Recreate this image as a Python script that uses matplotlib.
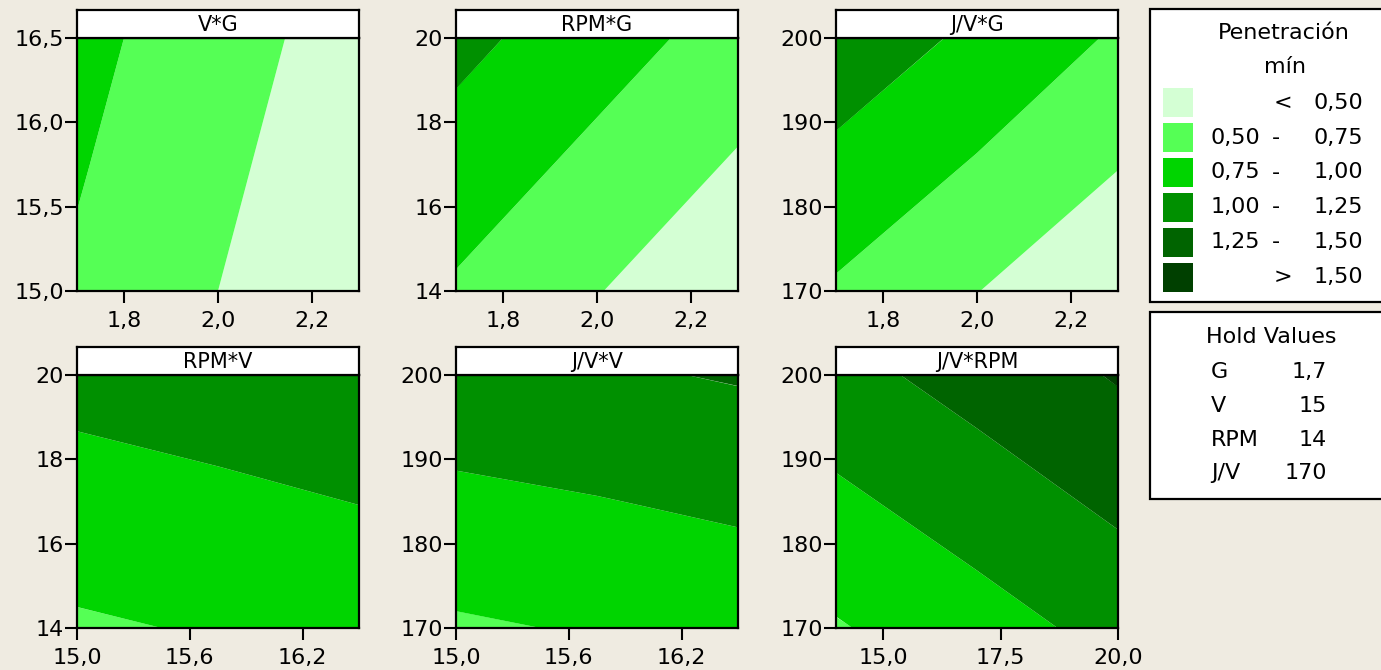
import matplotlib
matplotlib.use("Agg")
from matplotlib import pyplot as plt
from matplotlib.patches import Rectangle

# factor grids (3 points per axis) and response values
g_vals = [1.7, 2.0, 2.3]
v_vals = [15.0, 15.75, 16.5]
rpm_vals = [14, 17, 20]
jv_vals = [170, 185, 200]

# rows = y axis values (bottom -> top), columns = x axis values
pen_v_g = [[0.715, 0.50, 0.29],
           [0.77, 0.55, 0.34],
           [0.825, 0.60, 0.39]]
pen_rpm_g = [[0.72, 0.51, 0.30],
             [0.895, 0.685, 0.475],
             [1.07, 0.86, 0.65]]
pen_jv_g = [[0.72, 0.505, 0.29],
            [0.94, 0.73, 0.51],
            [1.165, 0.95, 0.72]]
pen_rpm_v = [[0.72, 0.77, 0.825],
             [0.90, 0.95, 1.005],
             [1.08, 1.13, 1.18]]
pen_jv_v = [[0.72, 0.77, 0.825],
            [0.945, 0.99, 1.045],
            [1.17, 1.215, 1.27]]
pen_jv_rpm = [[0.73, 0.90, 1.075],
              [0.95, 1.12, 1.30],
              [1.17, 1.345, 1.52]]

levels = [0.0, 0.50, 0.75, 1.00, 1.25, 1.50, 3.0]
colors = ["#D4FFD4", "#55FF55", "#00D500", "#009000", "#006400", "#004000"]
legend_low = ["", "0,50", "0,75", "1,00", "1,25", ""]
legend_mid = ["<", "-", "-", "-", "-", ">"]
legend_high = ["0,50", "0,75", "1,00", "1,25", "1,50", "1,50"]

hold_names = ["G", "V", "RPM", "J/V"]
hold_values = ["1,7", "15", "14", "170"]

g_ticks = [1.8, 2.0, 2.2]
v_ticks_x = [15.0, 15.6, 16.2]
v_ticks_y = [15.0, 15.5, 16.0, 16.5]
rpm_ticks_y = [14, 16, 18, 20]
rpm_ticks_x = [15.0, 17.5, 20.0]
jv_ticks = [170, 180, 190, 200]

bg = "#EFEBE1"
W, H = 1381, 670
fig = plt.figure(figsize=(W / 100, H / 100), dpi=100, facecolor=bg)
plt.rcParams["font.family"] = "DejaVu Sans"


def px_axes(left, top, width, height):
    return fig.add_axes([left / W, 1 - (top + height) / H, width / W, height / H])


def comma(v, nd):
    return f"{v:.{nd}f}".replace(".", ",")


panels = [
    ("V*G", g_vals, v_vals, pen_v_g, g_ticks, 1, v_ticks_y, 1, 77, 38),
    ("RPM*G", g_vals, rpm_vals, pen_rpm_g, g_ticks, 1, rpm_ticks_y, 0, 456, 38),
    ("J/V*G", g_vals, jv_vals, pen_jv_g, g_ticks, 1, jv_ticks, 0, 836, 38),
    ("RPM*V", v_vals, rpm_vals, pen_rpm_v, v_ticks_x, 1, rpm_ticks_y, 0, 77, 375),
    ("J/V*V", v_vals, jv_vals, pen_jv_v, v_ticks_x, 1, jv_ticks, 0, 456, 375),
    ("J/V*RPM", rpm_vals, jv_vals, pen_jv_rpm, rpm_ticks_x, 1, jv_ticks, 0, 836, 375),
]

for title, xs, ys, zs, xt, xnd, yt, ynd, left, top in panels:
    ax = px_axes(left, top, 282, 253)
    ax.contourf(xs, ys, zs, levels=levels, colors=colors, antialiased=True)
    ax.set_xlim(xs[0], xs[-1])
    ax.set_ylim(ys[0], ys[-1])
    ax.set_xticks(xt)
    ax.set_xticklabels([comma(t, xnd) for t in xt])
    ax.set_yticks(yt)
    ax.set_yticklabels([comma(t, ynd) for t in yt])
    ax.tick_params(length=8.5, width=1.5, labelsize=16, color="black")
    ax.tick_params(axis="x", pad=6)
    ax.tick_params(axis="y", pad=1)
    for s in ax.spines.values():
        s.set_linewidth(1.6)

    tb = px_axes(left, top - 28, 282, 28)
    tb.set_facecolor("white")
    tb.set_xticks([])
    tb.set_yticks([])
    for s in tb.spines.values():
        s.set_linewidth(1.6)
    tb.text(0.5, 0.45, title, ha="center", va="center", fontsize=15,
            transform=tb.transAxes)

# legend boxes
for y0, y1 in [(9, 302), (312, 499)]:
    fig.patches.append(Rectangle((1150 / W, 1 - y1 / H), 250 / W, (y1 - y0) / H,
                                 transform=fig.transFigure, facecolor="white",
                                 edgecolor="black", linewidth=1.6))

fig.text(1284 / W, 1 - 33 / H, "Penetración", ha="center", va="center", fontsize=16)
fig.text(1285 / W, 1 - 67 / H, "mín", ha="center", va="center", fontsize=16)
for i, c in enumerate(colors):
    yc = 102.7 + i * 34.9
    fig.patches.append(Rectangle((1163 / W, 1 - (yc + 14.5) / H), 30 / W, 29 / H,
                                 transform=fig.transFigure, facecolor=c,
                                 edgecolor="none"))
    fig.text(1260 / W, 1 - yc / H, legend_low[i], ha="right", va="center", fontsize=16)
    mx = 1283 if legend_mid[i] in "<>" else 1276
    fig.text(mx / W, 1 - yc / H, legend_mid[i], ha="center", va="center", fontsize=16)
    fig.text(1363 / W, 1 - yc / H, legend_high[i], ha="right", va="center", fontsize=16)

fig.text(1271 / W, 1 - 337 / H, "Hold Values", ha="center", va="center", fontsize=16)
for i, (n, v) in enumerate(zip(hold_names, hold_values)):
    yc = 372 + i * 33.8
    fig.text(1211 / W, 1 - yc / H, n, ha="left", va="center", fontsize=16)
    fig.text(1327 / W, 1 - yc / H, v, ha="right", va="center", fontsize=16)

fig.savefig("out.png", dpi=100, facecolor=bg)
